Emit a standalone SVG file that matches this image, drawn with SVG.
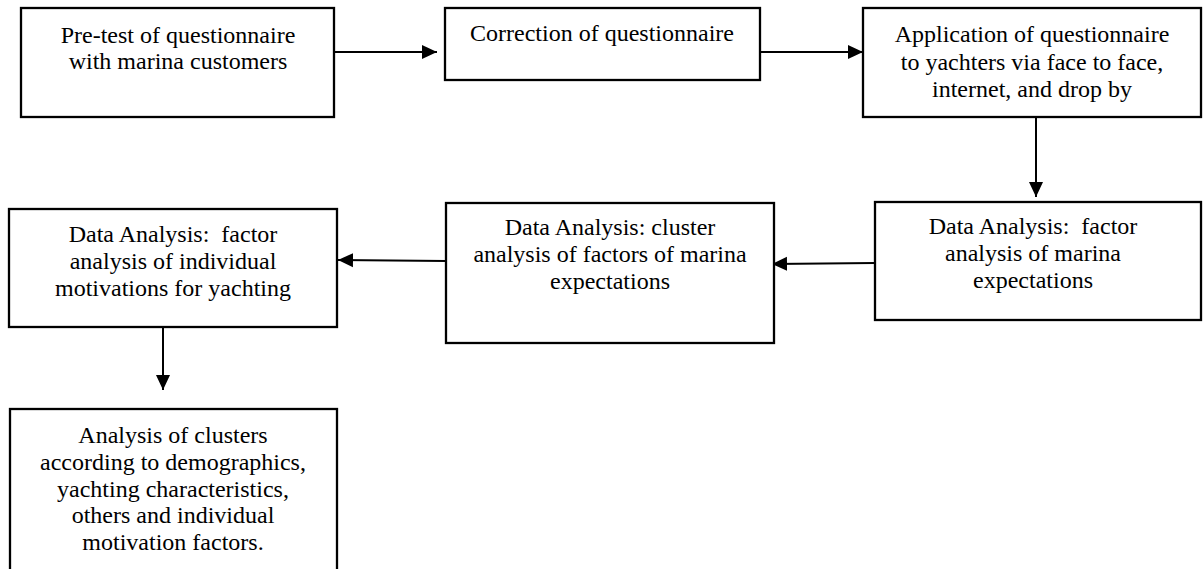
<svg xmlns="http://www.w3.org/2000/svg" width="1203" height="569" viewBox="0 0 1203 569">
<style>
.box{fill:#fff;stroke:#000;stroke-width:2.3}
.t{font-family:"Liberation Serif","Times New Roman",serif;font-size:24px;fill:#000;text-anchor:middle}
.c{stroke:#000;stroke-width:2;fill:none;marker-end:url(#ah)}
</style>
<defs>
<marker id="ah" markerUnits="userSpaceOnUse" markerWidth="16" markerHeight="16" viewBox="0 0 16 16" refX="15" refY="8" orient="auto">
<path d="M0,1 L15,8 L0,15 Z" fill="#000"/>
</marker>
</defs>
<rect width="1203" height="569" fill="#fff"/>
<g id="connectors">
<line class="c" x1="334" y1="52" x2="437" y2="52"/>
<line class="c" x1="760" y1="52" x2="863" y2="52"/>
<line class="c" x1="1036" y1="117" x2="1036" y2="197"/>
<line class="c" x1="875" y1="263" x2="772" y2="264"/>
<line class="c" x1="446" y1="261" x2="338" y2="260"/>
<line class="c" x1="163" y1="327" x2="163" y2="390"/>
</g>
<g id="n1">
<rect class="box" x="21" y="8" width="313" height="109"/>
<text class="t" x="178" y="43">Pre-test of questionnaire</text>
<text class="t" x="178" y="69">with marina customers</text>
</g>
<g id="n2">
<rect class="box" x="445" y="8" width="315" height="72"/>
<text class="t" x="602" y="41">Correction of questionnaire</text>
</g>
<g id="n3">
<rect class="box" x="863" y="8" width="338" height="109"/>
<text class="t" x="1032" y="42">Application of questionnaire</text>
<text class="t" x="1032" y="70">to yachters via face to face,</text>
<text class="t" x="1032" y="97">internet, and drop by</text>
</g>
<g id="n4">
<rect class="box" x="875" y="202" width="326" height="118"/>
<text class="t" x="1033" y="234" xml:space="preserve">Data Analysis:  factor</text>
<text class="t" x="1033" y="261">analysis of marina</text>
<text class="t" x="1033" y="288">expectations</text>
</g>
<g id="n5">
<rect class="box" x="446" y="203" width="328" height="140"/>
<text class="t" x="610" y="235">Data Analysis: cluster</text>
<text class="t" x="610" y="262">analysis of factors of marina</text>
<text class="t" x="610" y="289">expectations</text>
</g>
<g id="n6">
<rect class="box" x="9" y="209" width="328" height="118"/>
<text class="t" x="173" y="242" xml:space="preserve">Data Analysis:  factor</text>
<text class="t" x="173" y="269">analysis of individual</text>
<text class="t" x="173" y="296">motivations for yachting</text>
</g>
<g id="n7">
<rect class="box" x="10" y="409" width="327" height="200"/>
<text class="t" x="173" y="443">Analysis of clusters</text>
<text class="t" x="173" y="470">according to demographics,</text>
<text class="t" x="173" y="497">yachting characteristics,</text>
<text class="t" x="173" y="523">others and individual</text>
<text class="t" x="173" y="550">motivation factors.</text>
</g>
</svg>
